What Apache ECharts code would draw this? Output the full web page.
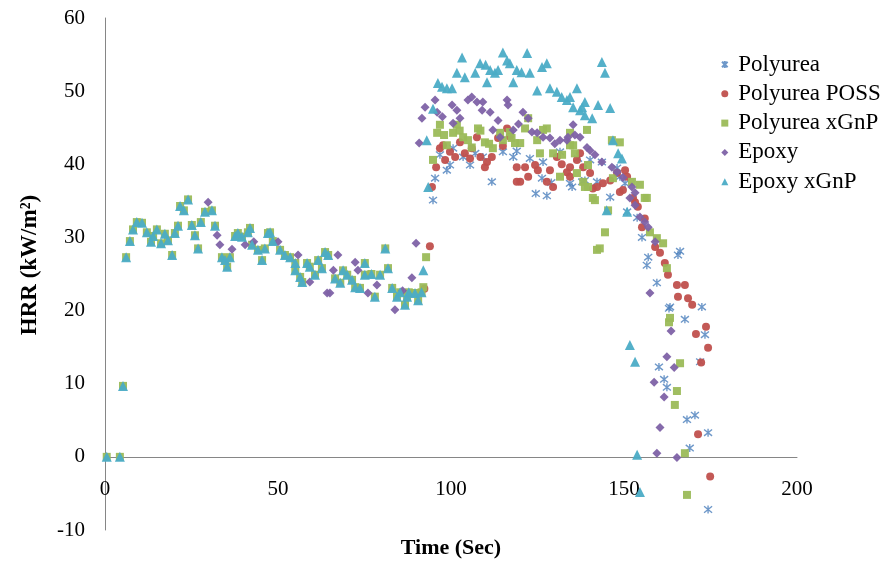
<!DOCTYPE html>
<html>
<head>
<meta charset="utf-8">
<script src="https://cdn.jsdelivr.net/npm/echarts@6/dist/echarts.min.js"></script>
<style>
  html, body { margin: 0; padding: 0; background: #fff; }
  #chart { width: 890px; height: 567px; }
</style>
</head>
<body>
<div id="chart"></div>
<script>
// Heat release rate readings, [time in s, HRR in kW/m²]
const seriesNames = ['Polyurea', 'Polyurea POSS', 'Polyurea xGnP', 'Epoxy', 'Epoxy xGnP'];

// Common ignition / early burning stage recorded for the xGnP samples
const earlyPhase = [
  [0.5,0],[4.3,0],[5.2,9.7],[6.1,27.3],[7.2,29.5],[8.1,31.1],[9.2,32.1],[10.7,32.0],[12.1,30.7],
  [13.3,29.4],[13.9,30.2],[15.0,31.1],[16.2,29.2],[17.3,30.5],[18.2,29.6],[19.4,27.6],[20.2,30.6],
  [21.1,31.6],[21.7,34.3],[22.8,33.7],[24.0,35.2],[25.1,31.7],[26.0,30.3],[26.9,28.5],[27.7,32.1],
  [28.9,33.5],[30.9,33.7],[31.8,31.6],[33.8,27.3],[34.7,26.9],[35.3,26.0],[36.1,27.3],[37.6,30.2],
  [38.4,30.6],[39.6,30.1],[41.3,30.7],[41.9,31.3],[42.5,29.0],[44.2,28.3],[45.4,26.9],[46.2,28.5],
  [47.1,30.6],[47.7,30.7],[48.5,29.5],[50.6,28.3],[52.0,27.6],[53.5,27.3],[55.0,26.5],[55.0,25.5],
  [56.4,24.6],[57.0,23.9],[58.4,26.5],[59.2,26.0],[60.7,24.9],[61.6,26.9],[62.7,25.8],[63.6,28.0],
  [64.5,27.6],[66.5,24.4],[68.0,23.8],[68.8,25.5],[70.0,24.9],[71.4,24.2],[72.3,23.2],[73.7,23.1],
  [75.1,24.9],[75.1,26.5],[77.0,25.0],[78.0,21.9],[79.5,24.9],[81.0,28.5],[81.8,25.8],[83.0,23.1],
  [84.4,21.9],[85.3,22.5],[86.7,20.8],[87.3,21.9],[87.8,22.5],[89.6,22.4],[90.5,21.4],[91.5,22.5]
];

const polyurea = [
  [94.8,35.1],[95.4,38.1],[96.8,41.3],[98.8,39.2],[99.7,39.9],[100.6,42.2],[103.5,41.0],[105.5,39.9],
  [107.0,41.5],[109.2,41.0],[111.8,37.6],[115.0,41.7],[118.0,41.0],[119.0,41.8],[122.8,40.8],
  [124.5,36.0],[126.3,38.1],[126.6,40.3],[127.7,35.7],[129.0,37.5],[131.5,41.7],[134.4,37.4],
  [135.0,36.9],[136.7,40.8],[137.9,37.6],[138.7,37.8],[140.2,40.6],[142.2,37.6],[143.6,40.3],
  [146.0,35.5],[148.0,39.5],[148.8,38.3],[150.3,37.4],[150.9,33.5],[153.8,32.7],[155.2,30.0],
  [156.6,26.2],[157.0,27.3],[159.5,23.8],[160.1,12.3],[161.6,10.6],[162.4,9.5],[163.0,20.3],
  [163.3,20.5],[165.6,27.6],[166.2,28.1],[167.6,18.8],[168.2,5.1],[169.0,1.2],[170.5,5.7],
  [172.0,13.0],[172.5,20.5],[173.4,16.7],[174.3,3.3],[174.3,-7.2]
];

const polyureaPOSS = [
  [92.3,23.0],[93.9,28.8],[94.5,36.9],[95.7,39.6],[96.8,42.2],[97.7,42.6],[98.3,40.6],[99.7,41.7],
  [101.2,41.0],[102.6,43.0],[104.0,41.5],[105.5,40.8],[106.0,42.2],[107.5,43.7],[108.5,41.0],
  [109.8,39.6],[110.4,40.3],[111.8,41.0],[113.6,43.6],[115.0,42.5],[116.2,44.9],[117.0,43.8],
  [119.0,39.6],[119.0,37.6],[120.0,37.6],[121.4,39.6],[122.3,38.3],[124.3,39.9],[125.1,39.2],
  [127.7,37.6],[128.6,39.2],[129.5,36.9],[130.6,41.0],[132.0,40.0],[133.5,38.9],[134.4,39.6],
  [134.4,38.3],[136.4,40.6],[137.3,41.5],[138.2,39.6],[140.2,38.8],[141.0,36.7],[142.2,36.9],
  [143.9,37.4],[146.0,37.8],[148.0,38.8],[148.8,36.2],[149.7,36.5],[150.3,39.2],[150.9,38.3],
  [152.6,35.4],[153.2,34.8],[154.0,34.2],[155.2,31.4],[156.0,32.6],[159.0,28.7],[160.4,27.9],
  [161.8,26.5],[162.7,24.9],[165.3,23.5],[165.6,21.9],[167.6,23.5],[168.5,21.7],[169.7,20.8],
  [170.8,16.8],[171.4,3.1],[172.3,12.9],[173.7,17.8],[174.3,14.9],[174.9,-2.7]
];

const polyureaXGnP = earlyPhase.concat([
  [92.0,23.2],[92.8,27.3],[94.8,40.6],[96.0,44.3],[96.8,45.4],[98.0,44.0],[98.8,42.6],[100.6,44.3],
  [101.7,45.4],[102.5,44.6],[103.5,43.7],[104.9,43.3],[106.0,42.3],[107.8,44.9],[108.5,44.6],
  [109.8,43.0],[111.0,42.8],[112.1,42.2],[114.2,44.3],[115.0,43.3],[117.0,44.4],[117.5,43.6],
  [118.5,42.9],[120.0,42.9],[121.4,44.9],[122.3,46.3],[124.9,43.3],[125.7,41.5],[126.6,44.7],
  [127.7,44.9],[129.5,41.5],[131.5,38.3],[132.1,41.3],[134.4,42.6],[134.4,44.3],[135.3,42.6],
  [135.8,41.5],[136.4,38.8],[138.2,37.6],[138.7,36.9],[139.3,44.7],[139.6,39.9],[139.6,36.9],
  [141.0,35.4],[141.6,35.1],[142.2,28.3],[143.0,28.5],[144.5,30.7],[145.4,33.7],[146.5,43.3],
  [146.8,38.1],[148.8,43.0],[152.3,37.6],[154.6,37.2],[156.0,35.4],[156.6,35.4],[157.5,30.7],
  [159.5,29.9],[161.3,29.2],[162.4,25.8],[163.0,18.4],[163.3,19.0],[164.7,7.1],[165.3,9.0],
  [166.2,12.8],[167.6,0.5],[168.2,-5.2]
]);

const epoxy = [
  [29.8,34.8],[32.4,30.3],[33.2,29.0],[36.7,28.4],[40.5,29.0],[43.0,29.4],[50.0,29.4],[55.8,27.6],
  [59.2,23.9],[64.2,22.4],[65.0,22.4],[66.0,25.5],[67.3,27.6],[72.3,26.6],[73.1,25.5],[76.0,22.4],
  [78.6,23.5],[83.8,20.1],[86.0,22.7],[88.7,24.5],[89.9,29.2],[90.8,42.9],[91.6,46.3],[92.5,47.8],
  [95.4,48.8],[96.0,47.1],[97.5,46.5],[100.3,48.1],[100.6,45.6],[101.7,47.4],[102.6,46.3],
  [104.9,48.8],[106.0,49.2],[107.5,48.5],[109.0,47.4],[109.2,48.5],[111.3,47.1],[112.1,44.7],
  [113.6,46.0],[114.2,43.7],[116.2,48.8],[116.5,48.1],[118.0,44.7],[119.5,45.5],[120.8,47.1],
  [122.3,46.3],[123.4,44.4],[124.9,44.3],[126.6,43.7],[128.6,43.6],[130.0,42.8],[131.5,43.3],
  [133.5,43.3],[133.8,43.7],[135.3,45.4],[135.8,44.0],[137.3,43.7],[139.3,42.3],[140.2,41.9],
  [141.6,41.3],[143.6,40.3],[146.5,39.6],[148.0,38.9],[149.7,38.2],[151.7,35.4],[152.3,36.9],
  [153.2,36.1],[153.2,34.4],[154.6,32.8],[156.0,32.1],[157.0,31.4],[159.0,29.4],[157.5,22.4],
  [163.6,17.2],[162.4,13.7],[164.5,12.2],[158.7,10.2],[161.6,8.2],[160.4,4.0],[159.5,0.5],[165.3,-0.1]
];

const epoxyXGnP = earlyPhase.concat([
  [92.0,25.5],[93.0,43.3],[93.4,36.9],[94.8,47.6],[96.2,51.1],[97.4,50.6],[98.8,50.4],[100.3,50.4],
  [101.7,52.5],[103.2,54.6],[104.0,51.9],[107.0,52.5],[108.4,53.8],[110.0,53.6],[110.4,51.2],
  [111.3,52.9],[112.7,52.5],[113.6,52.9],[115.0,55.3],[116.2,54.2],[117.0,53.8],[118.0,51.2],
  [119.0,52.9],[120.4,52.6],[122.0,55.2],[122.8,52.5],[124.9,50.1],[126.3,53.3],[127.7,53.8],
  [128.6,50.4],[130.6,49.9],[132.0,49.2],[133.5,48.8],[134.4,49.2],[135.3,47.8],[136.4,50.4],
  [137.3,47.4],[137.9,47.8],[138.7,48.5],[138.7,46.7],[140.8,46.3],[142.5,48.1],[143.6,54.0],
  [144.5,52.5],[146.0,47.7],[146.8,43.3],[148.3,41.5],[149.4,40.8],[145.0,33.7],[150.9,33.5],
  [151.7,15.3],[153.2,13.0],[153.8,0.3],[154.6,-4.8]
]);

const xTicks = { min: 0, max: 200, step: 50 };
const yTicks = { min: -10, max: 60, step: 10 };

const colors = ['#4A7EBB', '#C0504D', '#9BBB59', '#7E62A6', '#4BACC6'];
const seriesData = [polyurea, polyureaPOSS, polyureaXGnP, epoxy, epoxyXGnP];
const asteriskPath = 'path://M1,1L9,9M9,1L1,9M5,0L5,10';
const symbols = [asteriskPath, 'circle', 'rect', 'diamond', 'triangle'];
const sizes = [8, 8, 8, 9, 10];

const serif = '"Liberation Serif", "Times New Roman", serif';
const chartHeight = 567;
const grid = { left: 105, right: 93, top: 18, bottom: 37 };
// The horizontal axis crosses at HRR = 0; shift it up from the plot bottom
const plotHeight = chartHeight - grid.top - grid.bottom;
const zeroOffset = plotHeight * (0 - yTicks.min) / (yTicks.max - yTicks.min);

const chart = echarts.init(document.getElementById('chart'), null, { renderer: 'canvas' });

const series = seriesNames.map((name, i) => ({
  name,
  type: 'scatter',
  data: seriesData[i],
  symbol: symbols[i],
  symbolSize: sizes[i],
  itemStyle: i === 0
    ? { color: 'rgba(0,0,0,0)', borderColor: colors[i], borderWidth: 1.4 }
    : { color: colors[i], opacity: 0.95 },
  emphasis: { disabled: true },
  z: 2 + i
}));

chart.setOption({
  animation: false,
  backgroundColor: '#ffffff',
  grid: Object.assign({ outerBoundsMode: 'none', containLabel: false }, grid),
  legend: {
    orient: 'vertical',
    left: 716,
    top: 48,
    itemWidth: 7,
    itemHeight: 7,
    itemGap: 6.3,
    data: seriesNames,
    textStyle: { fontFamily: serif, fontSize: 23, color: '#000', lineHeight: 22, padding: [0, 0, 0, 5] }
  },
  graphic: [{
    type: 'text',
    x: 30,
    y: 265,
    rotation: Math.PI / 2,
    style: {
      text: 'HRR (kW/m²)',
      font: 'bold 23px ' + serif,
      fill: '#000',
      align: 'center',
      verticalAlign: 'middle'
    }
  }],
  xAxis: {
    type: 'value',
    position: 'bottom',
    offset: -zeroOffset,
    min: xTicks.min, max: xTicks.max, interval: xTicks.step,
    name: 'Time (Sec)',
    nameLocation: 'middle',
    nameGap: 80,
    nameTextStyle: { fontFamily: serif, fontSize: 22, fontWeight: 'bold', color: '#000' },
    axisLine: { onZero: false, lineStyle: { color: '#868686', width: 1 } },
    axisTick: { show: false },
    axisLabel: { margin: 22, fontFamily: serif, fontSize: 21, color: '#000' },
    splitLine: { show: false }
  },
  yAxis: {
    type: 'value',
    min: yTicks.min, max: yTicks.max, interval: yTicks.step,
    axisLine: { show: true, onZero: false, lineStyle: { color: '#868686', width: 1 } },
    axisTick: { show: false },
    axisLabel: { margin: 20, fontFamily: serif, fontSize: 21, color: '#000' },
    splitLine: { show: false }
  },
  series
});
</script>
</body>
</html>
